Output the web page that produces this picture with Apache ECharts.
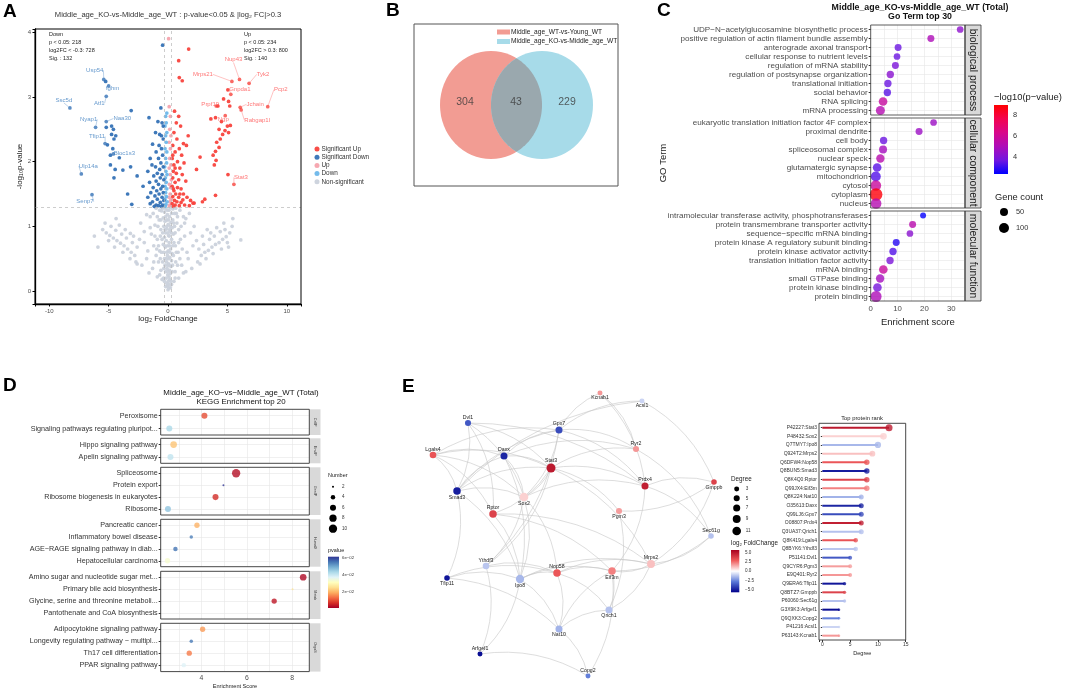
<!DOCTYPE html>
<html>
<head>
<meta charset="utf-8">
<title>Middle_age_KO-vs-Middle_age_WT</title>
<script src="https://cdn.jsdelivr.net/npm/echarts@6/dist/echarts.min.js"></script>
<style>
  body { margin: 0; background: #fff; }
  .layer { position: absolute; left: 0; top: 0; width: 1065px; height: 690px; }
</style>
</head>
<body>
<div id="pA" class="layer"></div>
<div id="pB" class="layer"></div>
<div id="pC" class="layer"></div>
<div id="pD" class="layer"></div>
<div id="pE" class="layer"></div>
<script>
const FONT = '"Liberation Sans", Arial, sans-serif';

// ---------- A: volcano ----------
const fcCut = 0.3, pCut = 0.05;
const volcanoSigUp = [[1.74,3.74],[0.9,3.56],[0.95,3.3],[1.2,3.25],[5.04,3.11],[4.68,2.97],[5.1,2.93],[4.2,2.86],[5.2,2.86],
  [3.61,2.66],[4.0,2.68],[4.5,2.62],[5.0,2.55],[5.25,2.56],[4.3,2.5],[4.8,2.48],[4.6,2.42],[5.1,2.45],[4.4,2.35],[4.1,2.3],
  [4.3,2.22],[4.0,2.16],[3.8,2.1],[4.05,2.02],[3.9,1.95],[2.7,2.07],[2.4,1.88],[5.05,1.8],[4.0,1.48],[3.1,1.42],[2.9,1.38],[2.1,1.36],
  [1.06,2.55],[1.7,2.4],[0.5,2.45],[0.75,2.35],[1.3,2.28],[0.4,2.25],[0.95,2.2],[1.55,2.25],[0.6,2.15],[1.15,2.1],[0.35,2.05],
  [0.8,2.0],[1.35,1.98],[0.5,1.95],[1.0,1.9],[0.45,1.85],[0.7,1.82],[1.2,1.8],[0.4,1.75],[0.9,1.72],[0.6,1.68],[1.5,1.7],
  [0.35,1.62],[0.8,1.6],[1.1,1.58],[0.5,1.55],[0.65,1.5],[1.3,1.5],[0.4,1.46],[0.9,1.45],[1.6,1.45],[0.55,1.4],[0.75,1.38],
  [1.1,1.37],[0.35,1.35],[0.6,1.33],[0.95,1.32],[1.4,1.33],[1.9,1.4],[1.8,1.32],[0.45,1.31],[2.2,1.36],[1.25,1.41],[0.7,2.6],
  [0.55,2.78],[0.9,2.7],[0.45,1.58],[0.6,1.9],[0.4,2.1],[1.0,1.5]];
const volcanoSigDown = [[-5.25,3.24],[-3.1,2.79],[-5.2,2.53],[-4.75,2.55],[-4.6,2.5],[-4.4,2.4],[-4.75,2.42],[-4.55,2.35],
  [-5.1,2.26],[-4.65,2.2],[-4.85,2.1],[-4.1,2.06],[-4.85,1.95],[-4.45,1.88],[-3.8,1.87],[-3.15,1.92],[-2.6,1.78],[-4.55,1.75],
  [-3.4,1.5],[-3.05,1.34],[-0.6,2.83],[-0.45,3.8],[-1.6,2.68],[-0.85,2.62],[-0.5,2.6],[-1.05,2.45],[-0.7,2.42],[-0.4,2.35],
  [-1.3,2.27],[-0.75,2.25],[-0.55,2.2],[-1.0,2.15],[-0.45,2.1],[-1.5,2.05],[-0.8,2.05],[-0.6,1.98],[-1.35,1.95],[-1.05,1.92],
  [-0.4,1.92],[-0.7,1.88],[-1.7,1.85],[-0.9,1.82],[-0.5,1.8],[-1.2,1.78],[-0.65,1.75],[-0.35,1.72],[-1.0,1.7],[-1.55,1.68],
  [-0.8,1.65],[-0.45,1.62],[-1.25,1.6],[-0.6,1.58],[-0.95,1.55],[-1.45,1.52],[-0.4,1.52],[-0.75,1.5],[-1.1,1.47],[-0.5,1.45],
  [-1.7,1.45],[-0.9,1.42],[-0.35,1.4],[-1.3,1.38],[-0.65,1.37],[-0.45,1.33],[-1.0,1.33],[-0.8,1.32],[-1.5,1.35],[-0.55,1.31],
  [-1.15,1.31],[-2.1,1.62],[-0.4,2.55],[-0.55,2.4]];
const volcanoUp = [[0.05,3.9],[0.1,2.85],[0.2,2.7],[0.15,2.5],[0.25,2.4],[0.1,2.3],[0.2,2.2],[0.15,2.05],[0.25,1.95],[0.1,1.9],
  [0.2,1.8],[0.28,1.72],[0.12,1.65],[0.22,1.6],[0.18,1.5],[0.08,1.45],[0.26,1.42],[0.15,1.38],[0.22,1.33],[0.1,1.32]];
const volcanoDown = [[-0.1,2.75],[-0.2,2.7],[-0.15,2.6],[-0.25,2.55],[-0.1,2.45],[-0.2,2.4],[-0.15,2.3],[-0.25,2.2],[-0.1,2.15],
  [-0.2,2.05],[-0.12,1.98],[-0.28,1.92],[-0.18,1.85],[-0.08,1.8],[-0.22,1.75],[-0.15,1.68],[-0.25,1.62],[-0.1,1.58],[-0.2,1.52],
  [-0.14,1.46],[-0.26,1.42],[-0.08,1.38],[-0.18,1.34],[-0.24,1.31]];
const volcanoNS = [[0,0.02],[0.05,0.05],[-0.05,0.08],[0.1,0.1],[-0.1,0.12],[0.02,0.15],[0.15,0.18],[-0.15,0.2],[0.08,0.22],
  [-0.02,0.25],[0.2,0.27],[-0.2,0.3],[0.12,0.32],[-0.08,0.35],[0.25,0.38],[-0.25,0.4],[0.05,0.42],[-0.12,0.45],[0.3,0.47],
  [-0.3,0.5],[0.15,0.52],[-0.05,0.55],[0.35,0.58],[-0.35,0.6],[0.02,0.62],[0.22,0.65],[-0.22,0.68],[0.4,0.7],[-0.4,0.72],
  [0.1,0.75],[-0.15,0.78],[0.3,0.8],[-0.3,0.83],[0.05,0.86],[0.45,0.88],[-0.45,0.9],[0.18,0.93],[-0.1,0.96],[0.35,0.98],
  [-0.35,1.0],[0.02,1.03],[0.25,1.06],[-0.25,1.08],[0.4,1.1],[-0.4,1.13],[0.12,1.15],[-0.05,1.18],[0.3,1.2],[-0.3,1.22],
  [0.08,1.25],[-0.18,1.27],[0.2,1.29],[-0.1,1.1],[0.15,0.6],[-0.2,0.9],[0.6,0.3],[-0.6,0.32],[0.8,0.4],[-0.8,0.45],[1.0,0.5],
  [-1.0,0.55],[0.7,0.6],[-0.7,0.62],[1.2,0.65],[-1.2,0.7],[0.9,0.75],[-0.9,0.8],[1.4,0.85],[-1.4,0.88],[0.6,0.9],[-0.6,0.95],
  [1.1,1.0],[-1.1,1.02],[0.75,1.05],[-0.75,1.1],[1.5,1.12],[-1.5,1.15],[0.55,1.2],[-0.55,1.24],[1.0,1.25],[-1.0,1.28],[1.8,1.2],
  [-1.8,1.18],[0.5,0.15],[-0.5,0.18],[1.5,0.3],[-1.6,0.28],[2.0,0.35],[-2.2,0.4],[2.5,0.45],[-2.6,0.42],[0.9,0.2],[-0.9,0.22],
  [1.3,0.28],[-1.3,0.35],[0.65,0.45],[-0.65,0.5],[1.6,0.6],[-1.7,0.62],[2.1,0.7],[-2.0,0.75],[1.3,1.15],[-1.25,1.2],[2.2,1.0],
  [-2.3,1.05],[1.9,0.9],[-2.0,0.92],[2.8,0.55],[3.1,0.6],[3.4,0.63],[3.7,0.68],[4.0,0.72],[4.3,0.75],[4.6,0.8],[4.9,0.84],
  [5.2,0.9],[3.0,0.72],[3.5,0.8],[3.9,0.85],[4.4,0.92],[4.8,0.95],[2.6,0.65],[3.2,0.5],[3.8,0.58],[4.5,0.65],[5.0,0.75],
  [5.4,1.0],[5.46,1.12],[6.13,0.79],[3.6,0.9],[4.1,0.98],[2.9,0.85],[2.4,0.78],[3.3,0.95],[4.7,1.05],[5.1,0.68],[2.7,0.42],
  [-2.8,0.55],[-3.1,0.6],[-3.4,0.65],[-3.7,0.7],[-4.0,0.74],[-4.3,0.78],[-4.6,0.82],[-4.9,0.86],[-5.2,0.9],[-5.5,0.95],
  [-3.0,0.75],[-3.5,0.82],[-3.9,0.88],[-4.4,0.94],[-4.8,1.0],[-2.6,0.68],[-3.2,0.5],[-3.8,0.6],[-4.5,0.68],[-5.0,0.78],
  [-5.9,0.68],[-4.37,1.12],[-3.17,0.89],[-3.6,0.95],[-4.1,1.02],[-2.9,0.85],[-2.4,0.8],[-5.3,1.05],[-2.7,0.45],[-6.2,0.85],
  [0.0,0.3],[0.05,0.5],[-0.05,0.7],[0.0,0.9],[0.05,1.1],[-0.05,1.25],[0.1,0.4],[-0.1,0.6],[0.1,0.85],[-0.1,1.0],[0.2,1.0],
  [-0.2,1.15],[0.28,0.9],[-0.28,0.7],[0.35,0.3],[-0.35,0.35],[0.45,0.55],[-0.45,0.45],[0.5,0.75],[-0.5,0.8],[0.55,1.0],
  [-0.6,1.1],[0.65,1.28],[-0.7,1.25],[0.8,1.15],[-0.85,1.0],[0.9,0.95],[-0.95,0.65],[1.05,0.8],[-1.1,0.85],[0.4,1.27],
  [-0.45,1.28],[0.3,0.1],[-0.3,0.15],[0.2,0.05],[-0.2,0.07],[0.6,0.2],[-0.7,0.25],[0.85,0.6],[-0.8,0.7],[1.15,0.4],
  [-1.2,0.45],[1.7,0.5],[-1.8,0.5],[1.4,1.05],[-1.5,0.98],[0.7,1.2],[-0.9,1.15],[0.15,0.95],[-0.15,0.5],[0.25,0.15],
  [-0.25,0.95],[0.12,0.7],[-0.02,0.4],[0.38,0.4],[-0.38,0.2],[0.48,1.05],[-0.55,0.6],[0.62,0.7],[-0.65,0.85]];
const upGenes = ['Nup43','Mrps21','Tyk2','Gnpda1','Pcp2','Prpf19','Jchain','Rabgap1l','Ngp','Stat3'];
const upGeneX = [6.02,5.38,6.83,5.29,8.40,4.06,6.08,6.16,4.82,5.55];
const upGeneY = [3.27,3.24,3.21,3.04,2.85,2.86,2.84,2.80,2.71,1.65];
const downGenes = ['Usp54','Ighm','Atf1','Ssc5d','Nyap1','Naa30','Tfip11','Bloc1s3','Ulp14a','Senp7'];
const downGeneX = [-5.41,-5.0,-5.2,-8.26,-6.1,-5.2,-5.3,-4.6,-7.3,-6.4];
const downGeneY = [3.27,3.17,3.01,2.83,2.53,2.62,2.28,2.12,1.81,1.49];
const upCounts = ['Up', 'p < 0.05: 234', 'log2FC > 0.3: 800', 'Sig. : 140'];
const downCounts = ['Down', 'p < 0.05: 218', 'log2FC < -0.3: 728', 'Sig. : 132'];

// ---------- B: venn ----------
const vennNames = ['Middle_age_WT-vs-Young_WT', 'Middle_age_KO-vs-Middle_age_WT'];
const vennOnly = [304, 229];
const vennBoth = 43;

// ---------- C: GO ----------
const goFacets = ['biological process', 'cellular component', 'molecular function'];
const goTerm = ['UDP−N−acetylglucosamine biosynthetic process','positive regulation of actin filament bundle assembly',
  'anterograde axonal transport','cellular response to nutrient levels','regulation of mRNA stability',
  'regulation of postsynapse organization','translational initiation','social behavior','RNA splicing','mRNA processing',
  'eukaryotic translation initiation factor 4F complex','proximal dendrite','cell body','spliceosomal complex','nuclear speck',
  'glutamatergic synapse','mitochondrion','cytosol','cytoplasm','nucleus',
  'intramolecular transferase activity, phosphotransferases','protein transmembrane transporter activity',
  'sequence−specific mRNA binding','protein kinase A regulatory subunit binding','protein kinase activator activity',
  'translation initiation factor activity','mRNA binding','small GTPase binding','protein kinase binding','protein binding'];
const goScore = [33.3,22.4,10.2,9.8,9.2,7.3,6.4,6.2,4.6,3.6, 23.4,18.0,4.8,4.6,3.6,2.4,1.9,1.9,2.0,2.0,
  19.5,15.6,14.6,9.5,8.3,7.2,4.7,3.5,2.5,2.0];
const goLogP = [4.3,5.0,3.6,3.6,3.9,4.2,3.6,3.4,5.7,5.2, 4.6,4.6,3.6,4.8,5.3,3.4,3.3,5.8,8.8,5.2,
  2.4,5.3,4.2,2.8,3.3,3.9,5.8,4.8,3.8,5.0];
const goCount = [23,29,29,23,29,36,36,36,65,74, 23,29,36,50,58,65,100,120,185,120,
  11,29,23,29,36,36,65,58,65,129];

// ---------- D: KEGG ----------
const keggClass = ['CellP','CellP','EnvIP','EnvIP','GenIP','GenIP','GenIP','GenIP','HumaD','HumaD','HumaD','HumaD',
  'Metab','Metab','Metab','Metab','OrgaS','OrgaS','OrgaS','OrgaS'];
const keggPathway = ['Peroxisome','Signaling pathways regulating pluripot...','Hippo signaling pathway','Apelin signaling pathway',
  'Spliceosome','Protein export','Ribosome biogenesis in eukaryotes','Ribosome','Pancreatic cancer','Inflammatory bowel disease',
  'AGE−RAGE signaling pathway in diab...','Hepatocellular carcinoma','Amino sugar and nucleotide sugar met...',
  'Primary bile acid biosynthesis','Glycine, serine and threonine metaboli...','Pantothenate and CoA biosynthesis',
  'Adipocytokine signaling pathway','Longevity regulating pathway − multipl...','Th17 cell differentiation','PPAR signaling pathway'];
const keggScore = [4.13,2.58,2.77,2.63,5.53,4.97,4.62,2.52,3.80,3.55,2.85,2.50,8.49,8.02,7.21,7.9,4.05,3.55,3.46,3.22];
const keggCount = [6,6,7,6,10,2,6,6,5,3,4,5,7,2,5,1,5,3,5,4];
const keggP = [0.0104,0.0432,0.022,0.0408,0.0033,0.061,0.0069,0.046,0.020,0.054,0.055,0.033,0.0027,0.026,0.0045,0.035,
  0.0176,0.0545,0.0146,0.0372];

// ---------- E: PPI ----------
const protRank = ['P42227:Stat3','P48432:Sox2','Q7TMY7:Ipo8','Q924T2:Mrps2','Q6DFW4:Nop58','Q8BUN5:Smad3','Q8K4Q0:Rptor',
  'Q99JX4:Eif3m','Q8K224:Nat10','O35613:Daxx','Q99LJ6:Gpx7','O08807:Prdx4','Q3UA37:Qrich1','Q8K419:Lgals4','Q8BYK6:Ythdf3',
  'P51141:Dvl1','Q9CYR6:Pgm3','E9Q401:Ryr2','Q9ERA6:Tfip11','Q8BTZ7:Gmppb','P60060:Sec61g','G3X9K3:Arfgef1','Q9QXK3:Copg2',
  'P41216:Acsl1','P63143:Kcnab1'];
const protDegree = [12,11,10,9,8,8,8,8,7,7,7,7,7,6,6,5,5,5,4,4,4,3,3,3,3];
const protFC = [4.9,0.8,-1.5,1.1,3.0,-5.0,3.6,2.2,-1.6,-4.8,-3.9,4.7,-1.3,3.1,-1.2,-3.6,1.7,1.8,-5.2,3.6,-1.3,-5.4,-2.7,-0.9,1.8];
const netNode = ['Dvl1','Lgals4','Daxx','Gpx7','Stat3','Smad3','Sox2','Rptor','Ythdf3','Tfip11','Ipo8','Nop58','Nat10','Arfgef1',
  'Kcnab1','Acsl1','Ryr2','Prdx4','Gmppb','Pgm3','Sec61g','Mrps2','Eif3m','Qrich1','Copg2'];
const netX = [48,13,84,139,131,37,104,73,66,27,100,137,139,60,180,222,216,225,294,199,291,231,192,189,168];
const netY = [38,70,71,45,83,106,112,129,181,193,194,188,244,269,8,16,64,101,97,126,151,179,186,225,291];
const netEdges = [
  ['Dvl1','Smad3'],['Dvl1','Rptor'],['Dvl1','Sox2'],['Dvl1','Stat3'],['Dvl1','Prdx4'],
  ['Lgals4','Daxx'],['Lgals4','Stat3'],['Lgals4','Smad3'],['Lgals4','Rptor'],['Lgals4','Sox2'],['Lgals4','Gpx7'],
  ['Smad3','Daxx'],['Smad3','Stat3'],['Smad3','Sox2'],['Smad3','Gpx7'],['Smad3','Tfip11'],['Smad3','Ipo8'],['Smad3','Acsl1'],
  ['Daxx','Stat3'],['Daxx','Sox2'],['Daxx','Ipo8'],['Daxx','Gpx7'],['Daxx','Ryr2'],
  ['Gpx7','Kcnab1'],['Gpx7','Acsl1'],['Gpx7','Ryr2'],['Gpx7','Prdx4'],['Gpx7','Sox2'],['Gpx7','Ythdf3'],
  ['Stat3','Sox2'],['Stat3','Ryr2'],['Stat3','Prdx4'],['Stat3','Pgm3'],['Stat3','Rptor'],['Stat3','Ythdf3'],['Stat3','Mrps2'],
  ['Sox2','Ythdf3'],['Sox2','Ipo8'],['Sox2','Nop58'],['Sox2','Prdx4'],
  ['Rptor','Ipo8'],['Rptor','Eif3m'],['Rptor','Mrps2'],
  ['Ythdf3','Nop58'],['Ythdf3','Arfgef1'],
  ['Tfip11','Ipo8'],['Tfip11','Nop58'],['Tfip11','Nat10'],
  ['Ipo8','Nop58'],['Ipo8','Nat10'],['Ipo8','Arfgef1'],['Ipo8','Mrps2'],['Ipo8','Eif3m'],
  ['Nop58','Nat10'],['Nop58','Mrps2'],['Nop58','Eif3m'],['Nop58','Qrich1'],
  ['Nat10','Eif3m'],['Nat10','Qrich1'],['Nat10','Copg2'],['Arfgef1','Copg2'],
  ['Kcnab1','Ryr2'],['Kcnab1','Prdx4'],['Acsl1','Gmppb'],['Ryr2','Sec61g'],
  ['Prdx4','Gmppb'],['Prdx4','Sec61g'],['Prdx4','Eif3m'],['Gmppb','Pgm3'],['Gmppb','Mrps2'],['Pgm3','Qrich1'],
  ['Sec61g','Mrps2'],['Sec61g','Eif3m'],['Mrps2','Eif3m'],['Mrps2','Qrich1'],['Eif3m','Qrich1'],['Eif3m','Copg2']];

// ---------- helpers ----------
function hex(h) { return [1, 3, 5].map(i => parseInt(h.substr(i, 2), 16)); }
function lerpColor(stops, v) {
  if (v <= stops[0][0]) return stops[0][1];
  for (let i = 1; i < stops.length; i++) {
    if (v <= stops[i][0]) {
      const t = (v - stops[i - 1][0]) / (stops[i][0] - stops[i - 1][0]);
      const a = hex(stops[i - 1][1]), b = hex(stops[i][1]);
      return 'rgb(' + a.map((c, k) => Math.round(c + (b[k] - c) * t)).join(',') + ')';
    }
  }
  return stops[stops.length - 1][1];
}
function gradient(stops, lo, hi) { // vertical gradient, top = hi
  return { type: 'linear', x: 0, y: 0, x2: 0, y2: 1,
    colorStops: stops.map(s => ({ offset: (hi - s[0]) / (hi - lo), color: s[1] })).reverse() };
}
function txt(x, y, s, size, opt) {
  opt = opt || {};
  return { type: 'text', x: x, y: y, rotation: opt.rot || 0, z: 100, silent: true,
    style: { text: s, fontSize: size, fontFamily: FONT, fontWeight: opt.bold ? 'bold' : 'normal', fill: opt.color || '#222',
      textAlign: opt.align || 'left', align: opt.align || 'left', textVerticalAlign: 'middle', verticalAlign: 'middle' } };
}
function box(g, color, w, fill) {
  return { type: 'rect', z: fill ? 1 : 100, silent: true, shape: { x: g.left, y: g.top, width: g.width, height: g.height },
    style: { fill: fill || 'none', stroke: color || null, lineWidth: w || 0 } };
}
function dot(x, y, d, color) {
  return { type: 'circle', z: 100, silent: true, shape: { cx: x, cy: y, r: d / 2 }, style: { fill: color } };
}
const fcStops = [[-5.7, '#00008b'], [-2.85, '#5a78d8'], [0, '#ffffff'], [2.85, '#ef5b5b'], [5.7, '#a8001e']];
const fcColor = v => lerpColor(fcStops, v);

// ================= A =================
const gA = { left: 35, top: 29, width: 266, height: 275 };
const upShift = [[-6,-20],[-29,-7],[14,-9],[9,-5],[13,-17],[-6,-2],[15,-3],[16,10],[-2,4],[7,-7]];
const downShift = [[-9,-9],[4,2],[-7,7],[-6,-8],[-7,-8],[16,-3],[-8,-7],[11,-1],[7,-8],[-7,7]];
function volcanoSeries(name, data, color, z) {
  return { name: name, type: 'scatter', data: data, symbolSize: 3.7, z: z, silent: true,
    itemStyle: { color: color, opacity: 0.95 } };
}
function labeledSeries(name, genes, xs, ys, shift, color, textColor) {
  return { name: name, type: 'scatter', z: 5, silent: true, symbolSize: 3.7, itemStyle: { color: color },
    data: genes.map((g, i) => ({ name: g, value: [xs[i], ys[i]] })),
    label: { show: true, position: 'inside', formatter: '{b}', fontSize: 6, color: textColor, fontFamily: FONT },
    labelLayout: p => ({ dx: shift[p.dataIndex][0], dy: shift[p.dataIndex][1] }),
    labelLine: { show: true, length2: 0, lineStyle: { color: textColor, width: 0.5, opacity: 0.7 } } };
}
const optA = {
  animation: false,
  textStyle: { fontFamily: FONT },
  grid: gA,
  xAxis: { type: 'value', min: -11.2, max: 11.2, splitNumber: 4, splitLine: { show: false },
    axisLine: { show: true, onZero: false, lineStyle: { color: '#000', width: 1.3 } },
    axisTick: { show: true, length: 2.5, lineStyle: { color: '#000' } },
    axisLabel: { fontSize: 6, color: '#4d4d4d', margin: 4, formatter: v => (Number.isInteger(v) && v % 5 === 0) ? v : '' },
    name: 'log₂ FoldChange', nameLocation: 'middle', nameGap: 11, nameTextStyle: { fontSize: 8, color: '#222' } },
  yAxis: { type: 'value', min: -0.2, max: 4.05, splitNumber: 4, splitLine: { show: false },
    axisLine: { show: true, onZero: false, lineStyle: { color: '#000', width: 1.3 } },
    axisTick: { show: true, length: 2.5, lineStyle: { color: '#000' } },
    axisLabel: { fontSize: 6, color: '#4d4d4d', margin: 4, formatter: v => Number.isInteger(v) ? v : '' },
    name: '-log₁₀p-value', nameLocation: 'middle', nameGap: 9, nameTextStyle: { fontSize: 8, color: '#222' } },
  legend: { orient: 'vertical', left: 314.5, top: 146, padding: 0, itemWidth: 5, itemHeight: 5, itemGap: 2.2, icon: 'circle',
    textStyle: { fontSize: 6.4, color: '#333', padding: [0, 0, 0, -3] },
    data: ['Significant Up', 'Significant Down', 'Up', 'Down', 'Non-significant'] },
  series: [
    Object.assign(volcanoSeries('Non-significant', volcanoNS, '#cbd2dc', 1), {
      markLine: { silent: true, symbol: 'none', label: { show: false }, animation: false,
        lineStyle: { type: [3, 3], color: '#b8b8b8', width: 0.7 },
        data: [{ xAxis: -fcCut }, { xAxis: fcCut }, { yAxis: -Math.log10(pCut) }] } }),
    volcanoSeries('Up', volcanoUp, '#f6a3ad', 2),
    volcanoSeries('Down', volcanoDown, '#6db7ea', 2),
    volcanoSeries('Significant Up', volcanoSigUp, '#f8433d', 3),
    volcanoSeries('Significant Down', volcanoSigDown, '#3572b6', 3),
    labeledSeries('Significant Up', upGenes, upGeneX, upGeneY, upShift, '#f8433d', '#ff5252'),
    labeledSeries('Significant Down', downGenes, downGeneX, downGeneY, downShift, '#3572b6', '#3f7fc0')
  ],
  graphic: [
    txt(3, 12, 'A', 19, { bold: true, color: '#000' }),
    txt(168, 15, 'Middle_age_KO-vs-Middle_age_WT : p-value<0.05 & |log₂ FC|>0.3', 7.6, { align: 'center', color: '#333' }),
    box(gA, '#000', 1)
  ].concat(downCounts.map((s, i) => txt(49, 34 + i * 8, s, 5.5)))
   .concat(upCounts.map((s, i) => txt(244, 34 + i * 8, s, 5.5)))
};
echarts.init(document.getElementById('pA')).setOption(optA);

// ================= B =================
const gB = { left: 414, top: 24, width: 204, height: 162 };
const vennGeo = { a: [77, 81], b: [128, 81], rx: 51, ry: 54 };
const optB = {
  animation: false,
  textStyle: { fontFamily: FONT },
  grid: gB,
  xAxis: { type: 'value', min: 0, max: gB.width, show: false },
  yAxis: { type: 'value', min: 0, max: gB.height, show: false },
  legend: { orient: 'vertical', left: 497, top: 28.5, padding: 0, itemWidth: 13, itemHeight: 5, itemGap: 2.5, icon: 'rect',
    textStyle: { fontSize: 6.6, color: '#222', padding: [0, 0, 0, -4] }, data: vennNames },
  series: [
    { name: vennNames[0], type: 'scatter', silent: true, data: [vennGeo.a], symbolSize: [vennGeo.rx * 2, vennGeo.ry * 2],
      itemStyle: { color: '#f29c93', opacity: 1 } },
    { name: vennNames[1], type: 'scatter', silent: true, data: [vennGeo.b], symbolSize: [vennGeo.rx * 2, vennGeo.ry * 2],
      itemStyle: { color: '#a7dbe9', opacity: 1 } },
    { type: 'custom', silent: true, z: 3, data: [[0, 0]],
      renderItem: (params, api) => {
        const { a, b, rx, ry } = vennGeo, pts = [], n = 180;
        const inside = (x, y, c) => ((x - c[0]) / rx) ** 2 + ((y - c[1]) / ry) ** 2 <= 1;
        for (let k = 0; k <= n; k++) {
          const t = -Math.PI + 2 * Math.PI * k / n, x = a[0] + rx * Math.cos(t), y = a[1] + ry * Math.sin(t);
          if (inside(x, y, b)) pts.push(api.coord([x, y]));
        }
        for (let k = 0; k <= n; k++) {
          const t = 2 * Math.PI * k / n, x = b[0] + rx * Math.cos(t), y = b[1] + ry * Math.sin(t);
          if (inside(x, y, a)) pts.push(api.coord([x, y]));
        }
        return { type: 'polygon', shape: { points: pts }, style: { fill: '#9aa8ae' } };
      } },
    { type: 'scatter', silent: true, z: 4, symbolSize: 0,
      data: [{ name: String(vennOnly[0]), value: [51, 84] }, { name: String(vennBoth), value: [102, 84] },
             { name: String(vennOnly[1]), value: [153, 84] }],
      label: { show: true, position: 'inside', formatter: '{b}', fontSize: 10.5, color: '#3a3a3a' } }
  ],
  graphic: [txt(386, 11, 'B', 19, { bold: true, color: '#000' }), box(gB, '#555', 1)]
};
echarts.init(document.getElementById('pB')).setOption(optB);

// ================= C =================
const goStops = ['#0000ff', '#7116e0', '#ae0cb8', '#d8078a', '#f3044f', '#ff0000'];
const goMin = 2.34, goMax = 8.96;
const goGrids = [25, 118, 211].map(t => ({ left: 870.7, top: t, width: 94.3, height: 90 }));
const goSize = n => Math.sqrt(28 + 0.72 * n);
const optC = {
  animation: false,
  textStyle: { fontFamily: FONT },
  grid: goGrids,
  visualMap: { show: false, type: 'continuous', min: goMin, max: goMax, dimension: 2, seriesIndex: [0, 1, 2],
    inRange: { color: goStops } },
  xAxis: goGrids.map((g, i) => ({ gridIndex: i, type: 'value', min: 0, max: 35.1, interval: 5,
    axisLine: { show: false }, axisTick: { show: false },
    splitLine: { show: true, lineStyle: { color: '#e6e6e6', width: 0.6 } },
    axisLabel: { show: i === 2, fontSize: 7.8, color: '#4d4d4d', margin: 4, formatter: v => v % 10 === 0 ? v : '' },
    name: i === 2 ? 'Enrichment score' : '', nameLocation: 'middle', nameGap: 16,
    nameTextStyle: { fontSize: 9.5, color: '#222' } })),
  yAxis: goGrids.map((g, i) => ({ gridIndex: i, type: 'category', inverse: true,
    data: goTerm.slice(i * 10, i * 10 + 10),
    axisLine: { show: false }, axisTick: { show: true, length: 2, alignWithLabel: true, interval: 0, lineStyle: { color: '#333' } },
    splitLine: { show: true, alignWithLabel: true, interval: 0, lineStyle: { color: '#e6e6e6', width: 0.6 } },
    axisLabel: { interval: 0, fontSize: 8.1, color: '#4d4d4d', margin: 3 } })),
  series: goGrids.map((g, i) => ({ type: 'scatter', xAxisIndex: i, yAxisIndex: i, silent: true,
    data: goScore.slice(i * 10, i * 10 + 10).map((s, k) => [s, k, goLogP[i * 10 + k], goCount[i * 10 + k]]),
    symbolSize: v => goSize(v[3]) })),
  graphic: [
    txt(657, 11, 'C', 19, { bold: true, color: '#000' }),
    txt(920, 7.5, 'Middle_age_KO-vs-Middle_age_WT (Total)', 8.8, { bold: true, align: 'center', color: '#111' }),
    txt(920, 16.5, 'Go Term top 30', 8.8, { bold: true, align: 'center', color: '#111' }),
    txt(663, 163, 'GO Term', 9.5, { rot: Math.PI / 2, align: 'center' }),
    txt(994, 97, '−log10(p−value)', 9.4, {}),
    { type: 'rect', z: 100, silent: true, shape: { x: 994, y: 105, width: 14, height: 69 },
      style: { fill: gradient(goStops.map((c, k) => [goMin + (goMax - goMin) * k / (goStops.length - 1), c]), goMin, goMax) } },
    txt(1013, 105 + 69 * (goMax - 8) / (goMax - goMin), '8', 7.4, { color: '#333' }),
    txt(1013, 105 + 69 * (goMax - 6) / (goMax - goMin), '6', 7.4, { color: '#333' }),
    txt(1013, 105 + 69 * (goMax - 4) / (goMax - goMin), '4', 7.4, { color: '#333' }),
    txt(995, 197, 'Gene count', 9.3, {}),
    dot(1004, 212, goSize(50), '#000'), dot(1004, 228, goSize(100), '#000'),
    txt(1016, 212, '50', 7.4, { color: '#333' }), txt(1016, 228, '100', 7.4, { color: '#333' })
  ].concat(goGrids.map(g => box(g, '#333', 0.8)))
   .concat(goGrids.map(g => box({ left: 965, top: g.top, width: 16, height: g.height }, '#333', 0.8, '#d9d9d9')))
   .concat(goGrids.map((g, i) => txt(973, g.top + g.height / 2, goFacets[i], 10.4, { rot: -Math.PI / 2, align: 'center', color: '#1a1a1a' })))
};
echarts.init(document.getElementById('pC')).setOption(optC);

// ================= D =================
const rdylbu = ['#a50026','#d73027','#f46d43','#fdae61','#fee090','#ffffbf','#e0f3f8','#abd9e9','#74add1','#4575b4','#313695'];
const pMin = 0.0015, pMax = 0.061;
const keggFacets = ['CellP', 'EnvIP', 'GenIP', 'HumaD', 'Metab', 'OrgaS'];
const dLayout = [[409.3, 25.7], [438.3, 25], [467.3, 47.7], [519.3, 47.4], [571.3, 47.7], [623.3, 48.3]];
const dGrids = dLayout.map(r => ({ left: 160.7, top: r[0], width: 148.6, height: r[1] }));
const keggSize = n => Math.sqrt(Math.max(1, 8.1 * n - 12.2));
const keggIdx = keggFacets.map(f => keggClass.map((c, i) => c === f ? i : -1).filter(i => i >= 0));
const optD = {
  animation: false,
  textStyle: { fontFamily: FONT },
  grid: dGrids,
  visualMap: { show: false, type: 'continuous', min: pMin, max: pMax, dimension: 2,
    seriesIndex: keggFacets.map((f, i) => i), inRange: { color: rdylbu } },
  xAxis: dGrids.map((g, i) => ({ gridIndex: i, type: 'value', min: 2.2, max: 8.76, splitNumber: 6,
    axisLine: { show: false }, axisTick: { show: false },
    splitLine: { show: true, lineStyle: { color: '#e6e6e6', width: 0.6 } },
    axisLabel: { show: i === 5, fontSize: 6.8, color: '#4d4d4d', margin: 4,
      formatter: v => (Number.isInteger(v) && v % 2 === 0) ? v : '' },
    name: i === 5 ? 'Enrichment Score' : '', nameLocation: 'middle', nameGap: 11,
    nameTextStyle: { fontSize: 5.6, color: '#222' } })),
  yAxis: dGrids.map((g, i) => ({ gridIndex: i, type: 'category', inverse: true,
    data: keggIdx[i].map(k => keggPathway[k]),
    axisLine: { show: false }, axisTick: { show: true, length: 2, alignWithLabel: true, interval: 0, lineStyle: { color: '#333' } },
    splitLine: { show: true, alignWithLabel: true, interval: 0, lineStyle: { color: '#e6e6e6', width: 0.6 } },
    axisLabel: { interval: 0, fontSize: 7.2, color: '#333', margin: 3 } })),
  series: dGrids.map((g, i) => ({ type: 'scatter', xAxisIndex: i, yAxisIndex: i, silent: true,
    data: keggIdx[i].map((k, r) => [keggScore[k], r, keggP[k], keggCount[k]]),
    symbolSize: v => keggSize(v[3]) })),
  graphic: [
    txt(3, 386, 'D', 19, { bold: true, color: '#000' }),
    txt(241, 393, 'Middle_age_KO−vs−Middle_age_WT (Total)', 7.9, { align: 'center', color: '#111' }),
    txt(241, 402, 'KEGG Enrichment top 20', 7.9, { align: 'center', color: '#111' }),
    txt(328, 475, 'Number', 5.5, {}),
    txt(328, 550, 'pvalue', 5.5, {}),
    { type: 'rect', z: 100, silent: true, shape: { x: 328, y: 556.7, width: 11, height: 51.3 },
      style: { fill: gradient(rdylbu.map((c, k) => [pMin + (pMax - pMin) * k / (rdylbu.length - 1), c]), pMin, pMax) } }
  ].concat([2, 4, 6, 8, 10].map((n, k) => dot(333, 486.7 + k * 10.5, keggSize(n), '#000')))
   .concat([2, 4, 6, 8, 10].map((n, k) => txt(342, 486.7 + k * 10.5, String(n), 4.5, { color: '#333' })))
   .concat([0.06, 0.04, 0.02].map(p => txt(342, 556.7 + 51.3 * (pMax - p) / (pMax - pMin), p.toExponential(0).replace('e-', 'e−0'), 4.3, { color: '#333' })))
   .concat(dGrids.map(g => box(g, '#333', 0.9)))
   .concat(dGrids.map(g => box({ left: 310, top: g.top, width: 10.5, height: g.height }, null, 0, '#d9d9d9')))
   .concat(dGrids.map((g, i) => txt(315.3, g.top + g.height / 2, keggFacets[i], 3.6, { rot: -Math.PI / 2, align: 'center', color: '#333' })))
};
echarts.init(document.getElementById('pD')).setOption(optD);

// ================= E =================
const gNet = { left: 420, top: 385, width: 310, height: 300 };
const gRank = { left: 819, top: 423.3, width: 86.7, height: 216.7 };
const netLabelPos = { Smad3: 'bottom', Sox2: 'bottom', Tfip11: 'bottom', Ipo8: 'bottom', Nat10: 'bottom', Kcnab1: 'bottom',
  Acsl1: 'bottom', Gmppb: 'bottom', Pgm3: 'bottom', Eif3m: 'bottom', Qrich1: 'bottom' };
const geneOf = s => s.split(':')[1];
const netSize = d => Math.sqrt(6.3 + 6.2 * d);
const rankSize = d => Math.sqrt(Math.max(4, 4.75 * d - 8));
const protOf = g => protRank.findIndex(p => geneOf(p) === g);
const optE = {
  animation: false,
  textStyle: { fontFamily: FONT },
  grid: [gNet, gRank],
  xAxis: [
    { gridIndex: 0, type: 'value', min: 0, max: gNet.width, show: false },
    { gridIndex: 1, type: 'value', min: -0.6, max: 15, splitNumber: 3, splitLine: { show: false },
      axisLine: { show: false }, axisTick: { show: true, length: 2, lineStyle: { color: '#333' } },
      axisLabel: { fontSize: 5, color: '#333', margin: 2.5, formatter: v => (Number.isInteger(v) && v % 5 === 0) ? v : '' },
      name: 'Degree', nameLocation: 'middle', nameGap: 10, nameTextStyle: { fontSize: 5.5, color: '#222' } }
  ],
  yAxis: [
    { gridIndex: 0, type: 'value', min: 0, max: gNet.height, inverse: true, show: false },
    { gridIndex: 1, type: 'category', inverse: true, data: protRank,
      axisLine: { show: false }, axisTick: { show: true, length: 1.5, alignWithLabel: true, interval: 0, lineStyle: { color: '#333' } },
      axisLabel: { interval: 0, fontSize: 5, color: '#333', margin: 2 } }
  ],
  series: [
    { type: 'graph', coordinateSystem: 'cartesian2d', xAxisIndex: 0, yAxisIndex: 0, layout: 'none', silent: true,
      edgeSymbol: ['none', 'none'],
      lineStyle: { color: '#c6c6c6', width: 0.6, curveness: 0.18, opacity: 1 },
      data: netNode.map((g, i) => {
        const p = protOf(g);
        return { name: g, value: [netX[i], netY[i]], symbolSize: netSize(protDegree[p]),
          itemStyle: { color: fcColor(protFC[p]), borderWidth: 0 },
          label: { show: true, position: netLabelPos[g] || 'top', distance: 0, fontSize: 5.2, color: '#222', formatter: '{b}' } };
      }),
      links: netEdges.map(e => ({ source: e[0], target: e[1] })) },
    { type: 'bar', xAxisIndex: 1, yAxisIndex: 1, silent: true, barWidth: 2,
      data: protDegree.map((d, i) => ({ value: d, itemStyle: { color: fcColor(protFC[i]) } })) },
    { type: 'scatter', xAxisIndex: 1, yAxisIndex: 1, silent: true, z: 3,
      data: protDegree.map((d, i) => ({ value: [d, i], symbolSize: rankSize(d), itemStyle: { color: fcColor(protFC[i]) } })) }
  ],
  graphic: [
    txt(402, 387, 'E', 19, { bold: true, color: '#000' }),
    txt(862, 418, 'Top protein rank', 5.8, { align: 'center', color: '#222' }),
    box(gRank, '#333', 0.9),
    txt(731, 479, 'Degree', 6.3, {}),
    txt(731, 543, 'log₂ FoldChange', 6.3, {}),
    { type: 'rect', z: 100, silent: true, shape: { x: 731, y: 550, width: 8.3, height: 42.3 },
      style: { fill: gradient(fcStops, -5.7, 5.7) } }
  ].concat([3, 5, 7, 9, 11].map((d, k) => dot(736.7, [489, 498.3, 507.9, 519, 531][k], netSize(d), '#000')))
   .concat([3, 5, 7, 9, 11].map((d, k) => txt(745.7, [489, 498.3, 507.9, 519, 531][k], String(d), 4.6, { color: '#333' })))
   .concat([5, 2.5, 0, -2.5, -5].map(v => txt(745, 550 + 42.3 * (5.7 - v) / 11.4, v.toFixed(1).replace('-', '−'), 4.6, { color: '#333' })))
};
echarts.init(document.getElementById('pE')).setOption(optE);
</script>
</body>
</html>
